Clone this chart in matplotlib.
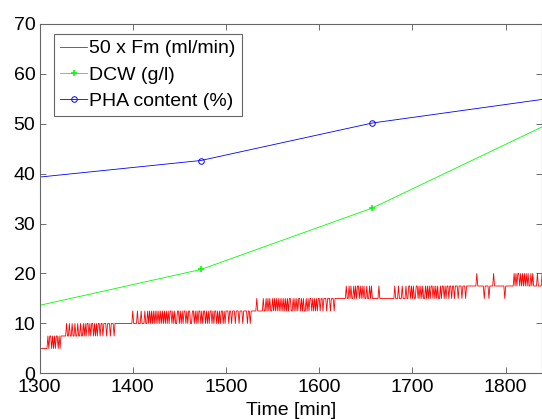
import numpy as np
import matplotlib
matplotlib.use("Agg")
import matplotlib.pyplot as plt

# ---- data ----
# PHA content (%) samples
pha_time = [1280, 1473, 1657, 1850]
pha_value = [38.9, 42.6, 50.1, 55.1]
# DCW (g/l) samples
dcw_time = [1280, 1473, 1657, 1850]
dcw_value = [12.8, 20.8, 33.1, 50.3]
# 50 x Fm (ml/min), sampled every minute from red_start; codes index into red_levels
red_start = 1300
red_levels = [5, 7.5, 10, 12.5, 15, 17.5, 20]
red_codes = "".join([
    "00000000",                      # 1300-1307
    "0101101010110101",              # 1308-1323
    "1111",                          # 1324-1327
    "1211211211211211211",           # 1328-1346
    "2121221212212121221",           # 1347-1365
    "2212221222122212",              # 1366-1381
    "222222222222222222",            # 1382-1399
    "3222232223222322" "32" "323232323232323232323",  # 1400-1438
    "2332323223323232332323", "3223323232332323323232", "332323323232332323",  # 1439-1500
    "332332333233323332333323323",   # 1501-1527
    "33333",                         # 1528-1532
    "4333333", "43343434334343434343434",  # 1533-1562
    "3434344334", "3434344343", "4334343443", "434343",  # 1563-1598
    "443443444344434443",            # 1599-1616
    "444444444444",                  # 1617-1628
    "5445454454", "5455454545", "4454454544", "4444454",  # 1629-1665
    "444444444444444",               # 1666-1680
    "5444544454445445", "5454544554", "5454544545", "4545545454", "544545",  # 1681-1732
    "54", "54", "554", "554", "554", "5554", "5554", "5554", "5",  # 1733-1758
    "5555555555", "6", "5555555", "4", "5555", "4", "5555", "6",
    "55555555555", "4", "555555555",  # 1759-1808
    "6565665656", "5656565565", "6555565555", "65",  # 1809-1840
])

x_ticks = [1300, 1400, 1500, 1600, 1700, 1800]
y_ticks = [0, 10, 20, 30, 40, 50, 60, 70]
legend_labels = ["50 x Fm (ml/min)", "DCW (g/l)", "PHA content (%)"]

red_value = [red_levels[int(c)] for c in red_codes]
red_time = red_start + np.arange(len(red_value))

plt.rcParams['font.family'] = ['Liberation Sans', 'DejaVu Sans']

fig = plt.figure(figsize=(5.42, 4.19), dpi=100)
ax = fig.add_axes([0.0729, 0.1086, 0.9271, 0.8353])

ax.plot(red_time, red_value, color='#ff0000', lw=0.6, label=legend_labels[0])
ax.plot(dcw_time, dcw_value, color='#00ff00', lw=0.6, marker='+',
        markersize=5, markeredgewidth=1.2, label=legend_labels[1])
ax.plot(pha_time, pha_value, color='#0000ff', lw=0.6, marker='o',
        markersize=4, markerfacecolor='none', markeredgewidth=0.7,
        label=legend_labels[2])

ax.set_xlim(1300, 1838.9)
ax.set_ylim(0, 70)
ax.set_xticks(x_ticks)
ax.set_yticks(y_ticks)
ax.tick_params(direction='in', length=4, width=0.6, color='#555555',
               labelsize=14, top=True, right=True)
ax.tick_params(axis='x', pad=4)
ax.tick_params(axis='y', pad=3)
for s in ax.spines.values():
    s.set_color('#666666')
    s.set_linewidth(0.8)
ax.set_xlabel("Time [min]", fontsize=14, labelpad=4)

leg = ax.legend(loc='upper left', bbox_to_anchor=(0.029, 0.97),
                borderaxespad=0, fontsize=14, fancybox=False,
                edgecolor='#666666', framealpha=1, handlelength=1.4,
                handletextpad=0.12, labelspacing=0.45, borderpad=0.3)
leg.get_frame().set_linewidth(0.8)

fig.savefig("out.png", dpi=100)
